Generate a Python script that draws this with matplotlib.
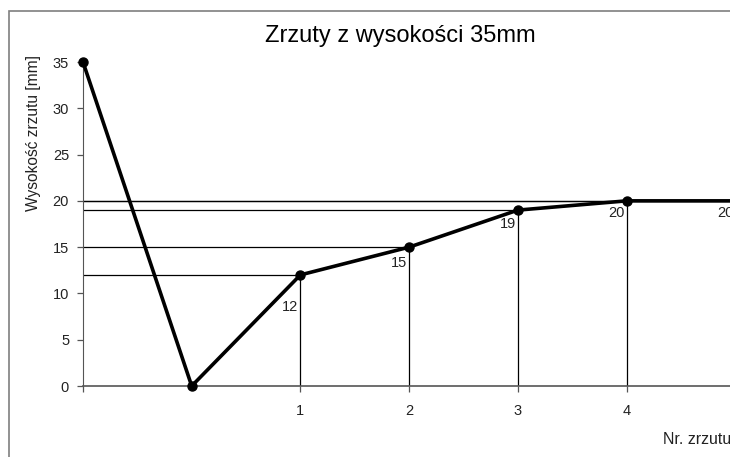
import matplotlib
matplotlib.use("Agg")
import matplotlib.pyplot as plt
from matplotlib.patches import Rectangle

plt.rcParams['font.family'] = ['Liberation Sans', 'DejaVu Sans']

# dane
pozycje = [0, 1, 2, 3, 4, 5, 6]
wysokosci = [35, 0, 12, 15, 19, 20, 20]
etykiety_pkt = ['', '', '12', '15', '19', '20', '20']
x_ticks = [0, 2, 3, 4, 5, 6]
x_tick_labels = ['', '1', '2', '3', '4', '']
y_ticks = [0, 5, 10, 15, 20, 25, 30, 35]

# przesuniecia etykiet (px) - tylko uklad
offs_y = [0, 0, -32, -16, -14, -12, -12]

fig = plt.figure(figsize=(7.3, 4.57), dpi=100)

# ramka obszaru wykresu
fig.patches.append(Rectangle((9 / 730, -0.1), 1.0, 1 - 11 / 457 + 0.1,
                             transform=fig.transFigure, fill=False,
                             edgecolor='#7f7f7f', lw=1.2))

px = 108.7
xmax = 6.4
ax = fig.add_axes([83 / 730, 71 / 457, xmax * px / 730, 324 / 457])
ax.set_xlim(0, xmax)
ax.set_ylim(0, 35)

# linie pomocnicze do osi
for x, y in zip(pozycje[2:], wysokosci[2:]):
    ax.plot([0, x], [y, y], color='black', lw=0.9, zorder=1)
    ax.plot([x, x], [0, y], color='black', lw=0.9, zorder=1)

ax.plot(pozycje, wysokosci, color='black', lw=2.6, marker='o', ms=6.5,
        zorder=3, clip_on=False)

for x, y, t, dy in zip(pozycje, wysokosci, etykiety_pkt, offs_y):
    if t:
        ax.annotate(t, (x, y), xytext=(-2, dy), textcoords='offset pixels',
                    ha='right', va='center', fontsize=10.5, color='#222222')

for s in ['top', 'right']:
    ax.spines[s].set_visible(False)
ax.spines['left'].set_color('#555555')
ax.spines['bottom'].set_color('#555555')
ax.spines['bottom'].set_linewidth(1.2)

ax.set_yticks(y_ticks)
ax.set_xticks(x_ticks)
ax.set_xticklabels(x_tick_labels)
ax.tick_params(axis='both', direction='out', length=4, width=0.9,
               colors='#555555', labelcolor='#222222', labelsize=10.5)
ax.tick_params(axis='x', pad=9)
ax.tick_params(axis='y', pad=6)
ax.set_ylabel('Wysokość zrzutu [mm]', fontsize=11.2, color='#222222')
ax.yaxis.set_label_coords(-42 / (xmax * px), 0.78)

fig.text(400 / 730, 1 - 36 / 457, 'Zrzuty z wysokości 35mm', ha='center',
         va='center', fontsize=17)
fig.text(663 / 730, 1 - 440 / 457, 'Nr. zrzutu', ha='left', va='center',
         fontsize=11.5, color='#222222')

fig.savefig('out.png', dpi=100)
